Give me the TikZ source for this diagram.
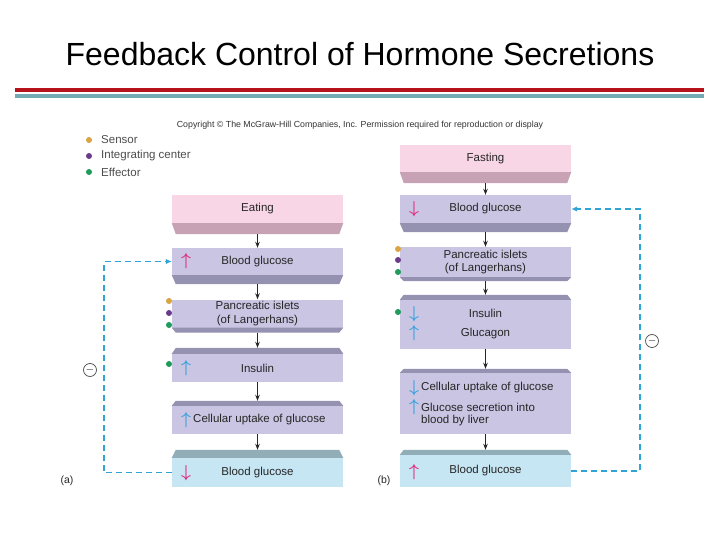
\documentclass[tikz,border=0pt]{standalone}
\usepackage{fontspec}
\setmainfont{Liberation Sans}
\usetikzlibrary{arrows.meta}
\definecolor{lav}{HTML}{C9C5E2}
\definecolor{lavd}{HTML}{9591B0}
\definecolor{pnk}{HTML}{F9D6E6}
\definecolor{pnkd}{HTML}{C6A2B4}
\definecolor{lbl}{HTML}{C6E6F4}
\definecolor{lbld}{HTML}{90ADB8}
\definecolor{fbc}{HTML}{30A4D4}
\definecolor{upk}{HTML}{E2307F}
\definecolor{ubl}{HTML}{3CA2DE}
\definecolor{sens}{HTML}{D9A441}
\definecolor{integ}{HTML}{6B3C8C}
\definecolor{effc}{HTML}{1F9B5B}
\definecolor{tred}{HTML}{B5121B}
\definecolor{tteal}{HTML}{74AAB5}
\newcommand\bevB[3]{\fill[#2] (#1.south west) -- (#1.south east) -- ([xshift=-4pt,yshift=-#3pt]#1.south east) -- ([xshift=4pt,yshift=-#3pt]#1.south west) -- cycle;}
\newcommand\bevT[3]{\fill[#2] (#1.north west) -- (#1.north east) -- ([xshift=-4pt,yshift=#3pt]#1.north east) -- ([xshift=4pt,yshift=#3pt]#1.north west) -- cycle;}
\begin{document}
\begin{tikzpicture}[x=1pt,y=-1pt,
  box/.style={fill=lav, minimum width=171pt, inner sep=0pt, font=\fontsize{11.5}{13.5}\selectfont, text=black!85, align=center},
  conn/.style={draw=black!85, line width=1pt, -{Stealth[length=6pt,width=4.5pt]}},
  fb/.style={draw=fbc, line width=1.5pt, dash pattern=on 6pt off 4pt, -{Latex[length=6pt,width=5.5pt]}},
  arr/.style={inner sep=0pt, font=\fontsize{16}{16}\selectfont\boldmath},
  dot/.style={circle, inner sep=0pt, minimum size=6pt},
  lbl/.style={inner sep=0pt, font=\fontsize{11.5}{13.5}\selectfont, text=black!85},
  minus/.style={circle, draw=black!70, line width=0.7pt, minimum size=13pt, inner sep=0pt, font=\fontsize{11}{11}\selectfont}
]
\useasboundingbox (0,0) rectangle (720,540);
% title
\node[font=\fontsize{32}{36}\selectfont] (title) at (360,54) {Feedback Control of Hormone Secretions};
\fill[tred] (15,88.5) rectangle (704,92);
\fill[tteal] (15,94.5) rectangle (704,98);
\node[inner sep=0pt, font=\fontsize{8.8}{10}\selectfont, text=black!80] (copy) at (360,125) {Copyright © The McGraw-Hill Companies, Inc. Permission required for reproduction or display};
% legend
\node[dot, fill=sens] (d1) at (89,140) {};
\node[dot, fill=integ] (d2) at (89,156) {};
\node[dot, fill=effc] (d3) at (89,172) {};
\node[lbl, anchor=west, text=black!70] (l1) at (101,140) {Sensor};
\node[lbl, anchor=west, text=black!70] (l2) at (101,156) {Integrating center};
\node[lbl, anchor=west, text=black!70] (l3) at (101,172) {Effector};

% ---------- left column (a)
\node[box, fill=pnk, minimum height=28pt] (eat) at (257.5,209) {Eating};
\bevB{eat}{pnkd}{11}
\node[box, minimum height=27pt] (bga) at (257.5,261.5) {Blood glucose};
\bevB{bga}{lavd}{9}
\node[box, minimum height=28pt] (pia) at (257.5,313.5) {Pancreatic islets\\(of Langerhans)};
\bevB{pia}{lavd}{5}
\node[box, minimum height=28pt] (ina) at (257.5,368) {Insulin};
\bevT{ina}{lavd}{6}
\node[box, minimum height=28pt] (cua) at (257.5,420) {};
\bevT{cua}{lavd}{5}
\node[box, fill=lbl, minimum height=29pt] (bgb) at (257.5,472.5) {Blood glucose};
\bevT{bgb}{lbld}{8}

\node[lbl, anchor=west] (cuat) at (193,420) {Cellular uptake of glucose};
\node[arr, text=upk] (a1) at (186,261.5) {$\uparrow$};
\node[arr, text=ubl] (a2) at (186,368) {$\uparrow$};
\node[arr, text=ubl] (a3) at (186,420) {$\uparrow$};
\node[arr, text=upk] (a4) at (186,473) {$\downarrow$};

\draw[conn] ([yshift=-11pt]eat.south) -- (bga.north);
\draw[conn] ([yshift=-9pt]bga.south) -- (pia.north);
\draw[conn] ([yshift=-5pt]pia.south) -- ([yshift=6pt]ina.north);
\draw[conn] (ina.south) -- ([yshift=5pt]cua.north);
\draw[conn] (cua.south) -- ([yshift=8pt]bgb.north);

\node[dot, fill=sens] (pa1) at (169,301) {};
\node[dot, fill=integ] (pa2) at (169,313) {};
\node[dot, fill=effc] (pa3) at (169,325) {};
\node[dot, fill=effc] (pa4) at (169,364) {};

\draw[fb] (bgb.west) -- ++(-68,0) |- (bga.west);
\node[minus] (m1) at (90,370) {$-$};
\node[lbl, font=\fontsize{10.5}{12}\selectfont] (la) at (67,481) {(a)};

% ---------- right column (b)
\node[box, fill=pnk, minimum height=27pt] (fas) at (485.5,158.5) {Fasting};
\bevB{fas}{pnkd}{11}
\node[box, minimum height=28pt] (bgc) at (485.5,209) {Blood glucose};
\bevB{bgc}{lavd}{9}
\node[box, minimum height=30pt] (pib) at (485.5,262) {Pancreatic islets\\(of Langerhans)};
\bevB{pib}{lavd}{4}
\node[box, minimum height=49pt, font=\fontsize{11.5}{19}\selectfont] (ig) at (485.5,324.5) {Insulin\\Glucagon};
\bevT{ig}{lavd}{5}
\node[box, minimum height=61pt] (cg) at (485.5,403.5) {};
\bevT{cg}{lavd}{4}
\node[box, fill=lbl, minimum height=32pt] (bgd) at (485.5,471) {Blood glucose};
\bevT{bgd}{lbld}{5}

\node[lbl, anchor=west] (cg1) at (421,388) {Cellular uptake of glucose};
\node[lbl, anchor=west] (cg2) at (421,407) {Glucose secretion into};
\node[lbl, anchor=west] (cg3) at (421,420.5) {blood by liver};
\node[arr, text=upk] (b1) at (414,209) {$\downarrow$};
\node[arr, text=ubl] (b2) at (414,314) {$\downarrow$};
\node[arr, text=ubl] (b3) at (414,333) {$\uparrow$};
\node[arr, text=ubl] (b4) at (414,388) {$\downarrow$};
\node[arr, text=ubl] (b5) at (414,407) {$\uparrow$};
\node[arr, text=upk] (b6) at (414,472) {$\uparrow$};

\draw[conn] ([yshift=-11pt]fas.south) -- (bgc.north);
\draw[conn] ([yshift=-9pt]bgc.south) -- (pib.north);
\draw[conn] ([yshift=-4pt]pib.south) -- ([yshift=5pt]ig.north);
\draw[conn] (ig.south) -- ([yshift=4pt]cg.north);
\draw[conn] (cg.south) -- ([yshift=5pt]bgd.north);

\node[dot, fill=sens] (pb1) at (398,249) {};
\node[dot, fill=integ] (pb2) at (398,260) {};
\node[dot, fill=effc] (pb3) at (398,272) {};
\node[dot, fill=effc] (pb4) at (398,312) {};

\draw[fb] (bgd.east) -- ++(69,0) |- (bgc.east);
\node[minus] (m2) at (652,341) {$-$};
\node[lbl, font=\fontsize{10.5}{12}\selectfont] (lb) at (384,481) {(b)};
\end{tikzpicture}
\end{document}
